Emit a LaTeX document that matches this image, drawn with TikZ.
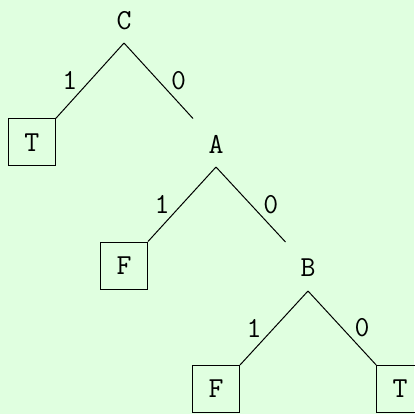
\documentclass[tikz,border=0pt]{standalone}
\usetikzlibrary{positioning}
\definecolor{bgmint}{RGB}{224,255,224}

\begin{document}
\begin{tikzpicture}[
      x=0.5pt, y=-0.5pt,
      font=\fontsize{14.5}{17}\selectfont\ttfamily,
      var/.style={inner sep=0pt},
      leaf/.style={draw,line width=0.5pt,minimum size=23.5pt,inner sep=0pt},
      edge/.style={line width=0.5pt},
      bit/.style={inner sep=0pt},
    ]
    \fill[bgmint] (0,0) rectangle (414,414);
    \useasboundingbox (0,0) rectangle (414,414);

    % variables and their forks
    \node[var] (C) at (124,20.5) {C};
    \coordinate (Cfork) at (124,43);
    \node[var] (A) at (216,144) {A};
    \coordinate (Ain) at (193,118.5);
    \coordinate (Afork) at (216,167);
    \node[var] (B) at (308,268) {B};
    \coordinate (Bin) at (285.5,242);
    \coordinate (Bfork) at (308,291);

    % terminal boxes
    \node[leaf] (CT) at (31.8,142.4) {T};
    \node[leaf] (AF) at (124,265.5) {F};
    \node[leaf] (BF) at (216,389) {F};
    \node[leaf] (BT) at (400.2,389) {T};

    % branches
    \draw[edge] (Cfork) -- (CT.north east) node[bit,midway,xshift=-10pt] {1};
    \draw[edge] (Cfork) -- (Ain) node[bit,midway,xshift=10pt] {0};
    \draw[edge] (Afork) -- (AF.north east) node[bit,midway,xshift=-10pt] {1};
    \draw[edge] (Afork) -- (Bin) node[bit,midway,xshift=10pt] {0};
    \draw[edge] (Bfork) -- (BF.north east) node[bit,midway,xshift=-10pt] {1};
    \draw[edge] (Bfork) -- (BT.north west) node[bit,midway,xshift=10pt] {0};
  \end{tikzpicture}
\end{document}
